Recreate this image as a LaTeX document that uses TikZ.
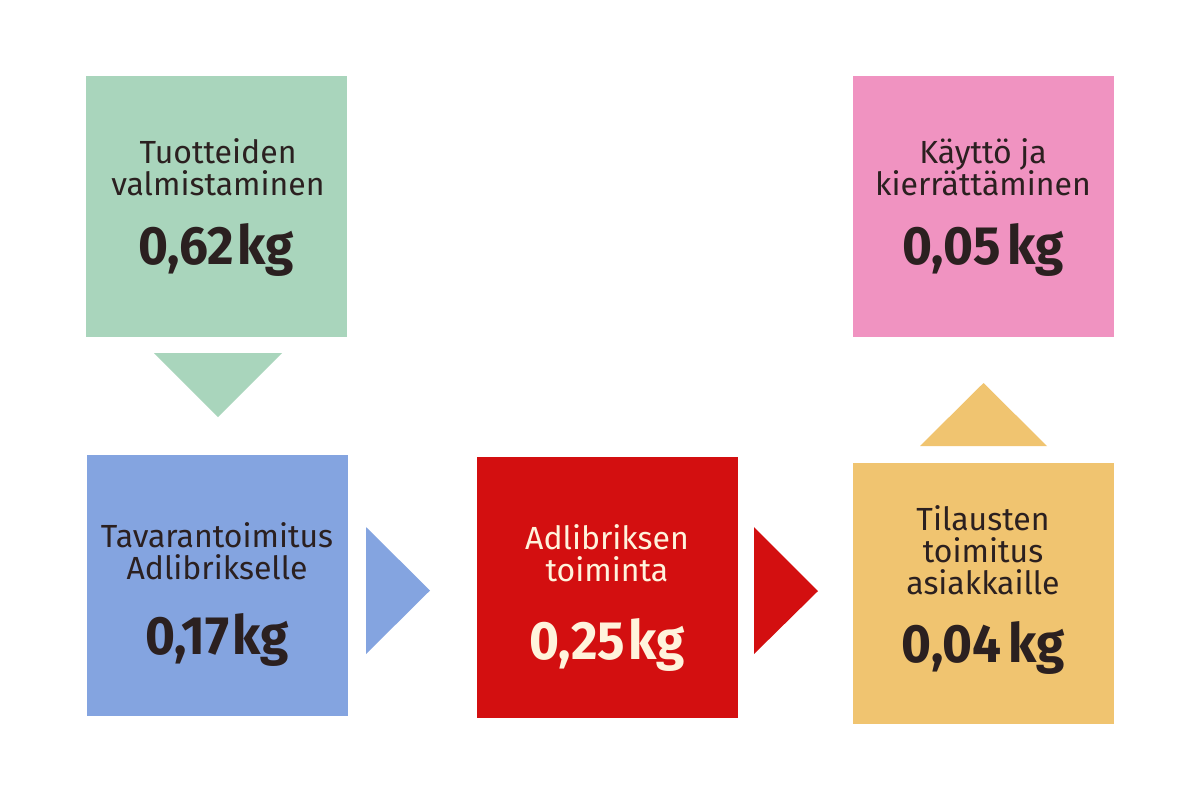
\documentclass[tikz,border=0pt]{standalone}
\usepackage{fontspec}
\setmainfont{Fira Sans}
\newfontfamily\numfont[FakeStretch=0.95]{Fira Sans}
\definecolor{cgreen}{HTML}{A9D5BC}
\definecolor{cblue}{HTML}{84A4E0}
\definecolor{cred}{HTML}{D30F10}
\definecolor{cyellow}{HTML}{F0C470}
\definecolor{cpink}{HTML}{F093C1}
\definecolor{ctext}{HTML}{2B2020}
\definecolor{ccream}{HTML}{FFF3DC}
\tikzset{
  box/.style={draw=none, minimum width=130.5pt, minimum height=130.5pt, inner sep=0pt},
  lbl/.style={align=center, font=\fontsize{16}{16}\selectfont, text=ctext, inner sep=0pt},
  num/.style={font=\numfont\bfseries\fontsize{27}{30}\selectfont, text=ctext, inner sep=0pt}
}
\newcommand{\kgap}{\kern0.06em}
\begin{document}
\begin{tikzpicture}[x=0.5pt,y=-0.5pt]
\useasboundingbox (0,0) rectangle (1200,800);
\fill[white] (0,0) rectangle (1200,800);
% boxes
\node[box, fill=cgreen] (green) at (216.5,206) {};
\node[box, fill=cpink] (pink) at (983.5,206) {};
\node[box, fill=cblue] (blue) at (217.5,585.5) {};
\node[box, fill=cred] (red) at (607,587.5) {};
\node[box, fill=cyellow] (yellow) at (983.5,593) {};
% arrows
\fill[cgreen] (154,353) -- (282,353) -- (218,417) -- cycle;
\fill[cblue] (366,527) -- (430,590.5) -- (366,654) -- cycle;
\fill[cred] (754,527) -- (818,591) -- (754,654) -- cycle;
\fill[cyellow] (920,446) -- (983.5,383) -- (1047,446) -- cycle;
% texts
\node[lbl] (greenL) at (218,167) {Tuotteiden\\valmistaminen};
\node[num] (greenN) at (216,250) {0,62\kgap kg};
\node[lbl] (pinkL) at (983,167) {Käyttö ja\\kierrättäminen};
\node[num] (pinkN) at (983,250) {0,05\kern0.12em kg};
\node[lbl] (blueL) at (217,551) {Tavarantoimitus\\Adlibrikselle};
\node[num] (blueN) at (217,640) {0,17\kgap kg};
\node[lbl, text=ccream] (redL) at (607,553) {Adlibriksen\\toiminta};
\node[num, text=ccream] (redN) at (607,645) {0,25\kgap kg};
\node[lbl] (yellowL) at (983,550) {Tilausten\\toimitus\\asiakkaille};
\node[num] (yellowN) at (983,648) {0,04\kern0.12em kg};
\end{tikzpicture}
\end{document}
